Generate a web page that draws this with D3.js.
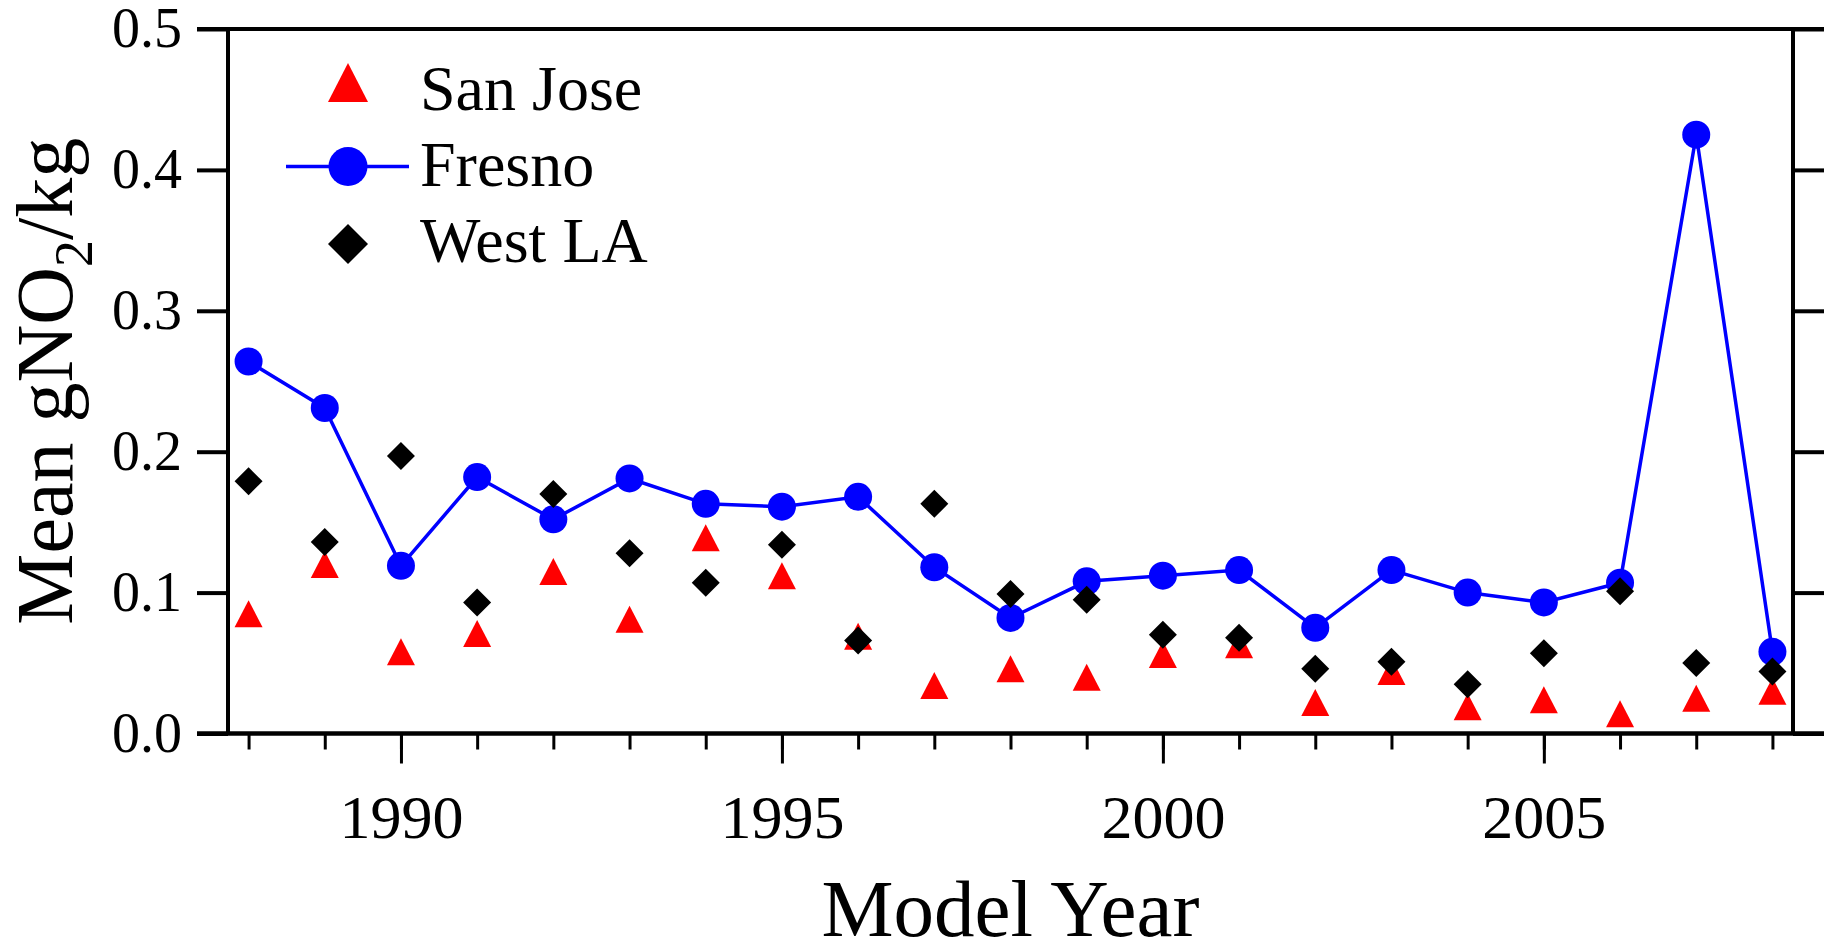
<!DOCTYPE html>
<html>
<head>
<meta charset="utf-8">
<script src="https://cdn.jsdelivr.net/npm/d3@7"></script>
<style>
  html, body { margin: 0; padding: 0; background: #fff; }
  svg { display: block; }
  text { font-family: "Liberation Serif", "Times New Roman", serif; fill: #000; }
</style>
</head>
<body>
<svg id="chart" width="1832" height="944"></svg>
<script>
// Model years on the x axis
const years = [1988, 1989, 1990, 1991, 1992, 1993, 1994, 1995, 1996, 1997, 1998,
               1999, 2000, 2001, 2002, 2003, 2004, 2005, 2006, 2007, 2008];

// Mean gNO2/kg by site
const sanJose = [0.085, 0.120, 0.058, 0.071, 0.115, 0.081, 0.139, 0.112, 0.069, 0.034, 0.046,
                 0.040, 0.056, 0.063, 0.022, 0.044, 0.019, 0.024, 0.014, 0.025, 0.030];
const fresno  = [0.264, 0.231, 0.119, 0.182, 0.152, 0.181, 0.163, 0.161, 0.168, 0.118, 0.082,
                 0.108, 0.112, 0.116, 0.075, 0.116, 0.100, 0.093, 0.107, 0.425, 0.058];
const westLA  = [0.179, 0.136, 0.197, 0.093, 0.170, 0.128, 0.107, 0.134, 0.066, 0.163, 0.099,
                 0.095, 0.070, 0.068, 0.046, 0.051, 0.035, 0.057, 0.101, 0.050, 0.044];

// Axis ticks
const yTicks = [0.0, 0.1, 0.2, 0.3, 0.4, 0.5];
const xMajorTicks = [1990, 1995, 2000, 2005];
const xMinorTicks = years;

const seriesNames = ["San Jose", "Fresno", "West LA"];

const svg = d3.select("#chart");
const plotLeft = 228, plotRight = 1793, plotTop = 29, plotBottom = 733.5;

const x = d3.scaleLinear().domain([1987.73, 2008.27]).range([plotLeft, plotRight]);
const y = d3.scaleLinear().domain([0, 0.5]).range([plotBottom, plotTop]);

// marker shapes, centred on the origin
const trianglePath = (w, h) => `M0,${-h / 2}L${w / 2},${h / 2}L${-w / 2},${h / 2}Z`;
const diamondPath = (w, h) => `M0,${-h / 2}L${w / 2},0L0,${h / 2}L${-w / 2},0Z`;

const RED = "#ff0000", BLUE = "#0000ff", BLACK = "#000000";
const markSize = 28, legendSize = 39;
const FONT = '"Liberation Serif", "Times New Roman", serif';
const AXIS_W = 4;

// ---- frame ----
svg.append("line").attr("x1", plotLeft).attr("x2", plotLeft).attr("y1", plotTop).attr("y2", plotBottom)
  .attr("stroke", "#000").attr("stroke-width", AXIS_W);
svg.append("line").attr("x1", plotRight).attr("x2", plotRight).attr("y1", plotTop).attr("y2", plotBottom)
  .attr("stroke", "#000").attr("stroke-width", AXIS_W);

// y axis (left) with outward ticks
const yAxisLeft = d3.axisLeft(y).tickValues(yTicks).tickFormat(d3.format(".1f"))
  .tickSizeOuter(0).tickSizeInner(31).tickPadding(15);
const gyl = svg.append("g").attr("transform", `translate(${plotLeft},0)`).call(yAxisLeft);
gyl.select(".domain").remove();
gyl.selectAll(".tick line").attr("stroke-width", AXIS_W);
gyl.selectAll(".tick text").attr("font-size", 56).style("font-family", FONT);

// y axis (right) ticks only
const yAxisRight = d3.axisRight(y).tickValues(yTicks).tickFormat("")
  .tickSizeOuter(0).tickSizeInner(31);
const gyr = svg.append("g").attr("transform", `translate(${plotRight},0)`).call(yAxisRight);
gyr.select(".domain").remove();
gyr.selectAll(".tick line").attr("stroke-width", AXIS_W);

// top and bottom lines
svg.append("line").attr("x1", plotLeft - 31).attr("x2", plotRight + 31).attr("y1", y(0.5)).attr("y2", y(0.5))
  .attr("stroke", "#000").attr("stroke-width", AXIS_W);
svg.append("line").attr("x1", plotLeft - 31).attr("x2", plotRight + 31).attr("y1", y(0)).attr("y2", y(0))
  .attr("stroke", "#000").attr("stroke-width", AXIS_W + 0.5);

// x axis: minor ticks every year, longer major ticks
const xMinor = d3.axisBottom(x).tickValues(xMinorTicks).tickFormat("").tickSizeOuter(0).tickSizeInner(16);
const gxm = svg.append("g").attr("transform", `translate(0,${plotBottom})`).call(xMinor);
gxm.select(".domain").remove();
gxm.selectAll(".tick line").attr("stroke-width", 3);

const xMajor = d3.axisBottom(x).tickValues(xMajorTicks).tickFormat(d3.format("d"))
  .tickSizeOuter(0).tickSizeInner(30).tickPadding(30);
const gxM = svg.append("g").attr("transform", `translate(0,${plotBottom})`).call(xMajor);
gxM.select(".domain").remove();
gxM.selectAll(".tick line").attr("stroke-width", 3);
gxM.selectAll(".tick text").attr("font-size", 62).style("font-family", FONT);

// axis titles
svg.append("text").attr("x", (plotLeft + plotRight) / 2).attr("y", 936)
  .attr("text-anchor", "middle").attr("font-size", 81).text("Model Year");

const yTitle = svg.append("text")
  .attr("transform", `translate(72,${(plotTop + plotBottom) / 2}) rotate(-90)`)
  .attr("text-anchor", "middle").attr("font-size", 80);
yTitle.append("tspan").text("Mean gNO");
yTitle.append("tspan").attr("font-size", 54).attr("dy", 20).text("2");
yTitle.append("tspan").attr("dy", -20).text("/kg");

// ---- data ----
const rows = years.map((yr, i) => ({ yr, sj: sanJose[i], fr: fresno[i], la: westLA[i] }));

// San Jose triangles
svg.append("g").selectAll("path").data(rows).join("path")
  .attr("transform", d => `translate(${x(d.yr)},${y(d.sj)})`)
  .attr("d", trianglePath(markSize, markSize - 1))
  .attr("fill", RED);

// Fresno line and circles
const line = d3.line().x(d => x(d.yr)).y(d => y(d.fr));
svg.append("path").datum(rows).attr("d", line)
  .attr("fill", "none").attr("stroke", BLUE).attr("stroke-width", 3.5);
svg.append("g").selectAll("circle").data(rows).join("circle")
  .attr("cx", d => x(d.yr)).attr("cy", d => y(d.fr)).attr("r", markSize / 2)
  .attr("fill", BLUE);

// West LA diamonds
svg.append("g").selectAll("path").data(rows).join("path")
  .attr("transform", d => `translate(${x(d.yr)},${y(d.la)})`)
  .attr("d", diamondPath(markSize, markSize))
  .attr("fill", BLACK);

// ---- legend ----
const legend = svg.append("g");
const lx = 348, textX = 420;
const rowsY = [82.5, 166.5, 244];
const baselines = [110, 186, 262];
legend.append("path").attr("transform", `translate(${lx},${rowsY[0]})`)
  .attr("d", trianglePath(legendSize + 1, legendSize)).attr("fill", RED);
legend.append("line").attr("x1", 286).attr("x2", 409).attr("y1", rowsY[1]).attr("y2", rowsY[1])
  .attr("stroke", BLUE).attr("stroke-width", 3.5);
legend.append("circle").attr("cx", lx).attr("cy", rowsY[1]).attr("r", legendSize / 2).attr("fill", BLUE);
legend.append("path").attr("transform", `translate(${lx},${rowsY[2]})`)
  .attr("d", diamondPath(legendSize + 1, legendSize + 1)).attr("fill", BLACK);
legend.selectAll("text").data(seriesNames).join("text")
  .attr("x", textX).attr("y", (d, i) => baselines[i])
  .attr("font-size", 64).text(d => d);
</script>
</body>
</html>
